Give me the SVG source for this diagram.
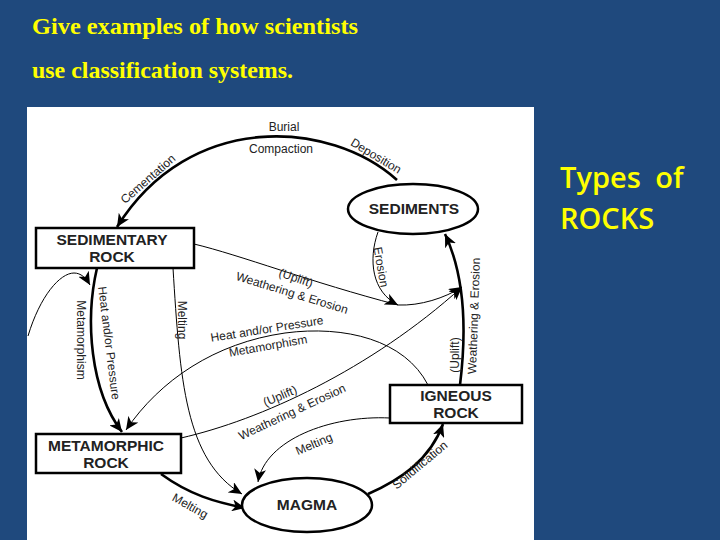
<svg xmlns="http://www.w3.org/2000/svg" width="720" height="540" viewBox="0 0 720 540">
<style>
.title{font-family:"Liberation Serif",serif;font-weight:bold;font-size:24px;fill:#FFFF00}
.side{font-family:"Open Sans","Liberation Sans",sans-serif;font-weight:600;font-size:29px;fill:#FFFF00}
.node{fill:#fff;stroke:#000;stroke-width:2.5}
.nt{font-family:"Liberation Sans",Arial,sans-serif;font-weight:bold;font-size:15.5px;fill:#222;text-anchor:middle}
.thick{fill:none;stroke:#000;stroke-width:2.6}
.thin{fill:none;stroke:#000;stroke-width:1}
.lbl{font-family:"Liberation Sans",Arial,sans-serif;font-size:12px;fill:#222;text-anchor:middle;dominant-baseline:central}
</style>
<defs>
<marker id="ah" markerUnits="userSpaceOnUse" markerWidth="14" markerHeight="12" refX="13" refY="6" orient="auto">
<path d="M0,0 L13,6 L0,12 L3.5,6 z" fill="#000"/>
</marker>
</defs>
<rect x="0" y="0" width="720" height="540" fill="#1F497D"/>
<rect x="27" y="107" width="507" height="433" fill="#fff"/>
<text class="title" x="32" y="34" textLength="326" lengthAdjust="spacingAndGlyphs">Give examples of how scientists</text>
<text class="title" x="32" y="78" textLength="261" lengthAdjust="spacingAndGlyphs">use classification systems.</text>
<text class="side" x="560" y="188" word-spacing="7">Types of</text>
<text class="side" x="560" y="229">ROCKS</text>

<g id="connectors">
<path class="thick" d="M 397 180 C 330 120, 190 110, 117 227" marker-end="url(#ah)"/>
<path class="thick" d="M 97 268 C 85 320, 90 390, 122 432" marker-end="url(#ah)"/>
<path class="thin" d="M 28 336 C 40 296, 60 273, 74 273 C 81 273, 86 278, 90 285" marker-end="url(#ah)"/>
<path class="thin" d="M 173 268 C 180 380, 185 460, 242 494" marker-end="url(#ah)"/>
<path class="thick" d="M 161 474 C 190 495, 215 502, 245 508" marker-end="url(#ah)"/>
<path class="thin" d="M 378 232 C 368 260, 372 292, 398 305" marker-end="url(#ah)"/>
<path class="thin" d="M 194 244 C 240 255, 310 282, 398 305 C 420 306, 445 298, 462 287" marker-end="url(#ah)"/>
<path class="thick" d="M 460 385 C 468 320, 462 270, 445 234" marker-end="url(#ah)"/>
<path class="thin" d="M 181 438 C 260 420, 370 370, 462 287" marker-end="url(#ah)"/>
<path class="thin" d="M 428 385 C 405 340, 345 325, 285 333 C 215 343, 160 380, 126 430" marker-end="url(#ah)"/>
<path class="thin" d="M 390 418 C 330 415, 265 440, 258 482" marker-end="url(#ah)"/>
<path class="thick" d="M 368 494 C 400 480, 430 460, 443 424" marker-end="url(#ah)"/>

<text class="lbl" x="284" y="127">Burial</text>
<text class="lbl" x="281" y="149">Compaction</text>
<text class="lbl" transform="translate(376,156) rotate(31)">Deposition</text>
<text class="lbl" transform="translate(148,179) rotate(-41)">Cementation</text>
<text class="lbl" transform="translate(109,343) rotate(83)">Heat and/or Pressure</text>
<text class="lbl" transform="translate(81,340) rotate(90)">Metamorphism</text>
<text class="lbl" transform="translate(182,320) rotate(90)">Melting</text>
<text class="lbl" transform="translate(296,278) rotate(19)">(Uplift)</text>
<text class="lbl" transform="translate(292,293) rotate(17)">Weathering &amp; Erosion</text>
<text class="lbl" transform="translate(267,329) rotate(-9)">Heat and/or Pressure</text>
<text class="lbl" transform="translate(268,346) rotate(-10)">Metamorphism</text>
<text class="lbl" transform="translate(381,267) rotate(80)">Erosion</text>
<text class="lbl" transform="translate(474,316) rotate(-88)">Weathering &amp; Erosion</text>
<text class="lbl" transform="translate(455,355) rotate(-90)">(Uplift)</text>
<text class="lbl" transform="translate(280,396) rotate(-23)">(Uplift)</text>
<text class="lbl" transform="translate(292,412) rotate(-25)">Weathering &amp; Erosion</text>
<text class="lbl" transform="translate(314,444) rotate(-23)">Melting</text>
<text class="lbl" transform="translate(420,465) rotate(-40)">Solidification</text>
<text class="lbl" transform="translate(190,506) rotate(29)">Melting</text>
</g>

<g id="sediments">
<ellipse class="node" cx="413" cy="209" rx="65" ry="25"/>
<text class="nt" x="414" y="214">SEDIMENTS</text>
</g>
<g id="sedimentary-rock">
<rect class="node" x="36" y="228" width="158" height="40"/>
<text class="nt" x="112" y="245">SEDIMENTARY</text>
<text class="nt" x="112" y="262">ROCK</text>
</g>
<g id="metamorphic-rock">
<rect class="node" x="36" y="434" width="145" height="39"/>
<text class="nt" x="106" y="451">METAMORPHIC</text>
<text class="nt" x="106" y="468">ROCK</text>
</g>
<g id="igneous-rock">
<rect class="node" x="390" y="385" width="132" height="38"/>
<text class="nt" x="456" y="401">IGNEOUS</text>
<text class="nt" x="456" y="418">ROCK</text>
</g>
<g id="magma">
<ellipse class="node" cx="307" cy="505" rx="65" ry="27"/>
<text class="nt" x="307" y="510">MAGMA</text>
</g>
</svg>
